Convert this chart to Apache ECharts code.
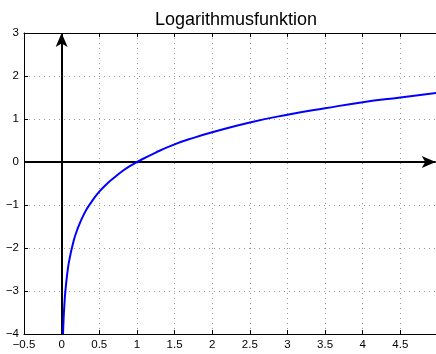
<!DOCTYPE html>
<html><head><meta charset="utf-8">
<script src="https://cdn.jsdelivr.net/npm/echarts@6/dist/echarts.min.js"></script>
<style>html,body{margin:0;padding:0;background:#fff}#c{width:436px;height:354px}</style>
</head><body><div id="c"></div>
<script>
const titleText = 'Logarithmusfunktion';
const xValues = [0.018,0.02,0.025,0.03,0.04,0.05,0.075,0.1,0.15,0.2,0.3,0.4,0.5,0.6,0.7,0.8,0.9,1,1.25,1.5,1.75,2,2.5,3,3.5,4,4.5,5];
const yValues = [-4.0,-3.91,-3.69,-3.51,-3.22,-3.0,-2.59,-2.3,-1.9,-1.61,-1.2,-0.92,-0.69,-0.51,-0.36,-0.22,-0.1,0,0.22,0.41,0.56,0.69,0.92,1.1,1.25,1.39,1.5,1.61];
const xTicks = [-0.5,0,0.5,1,1.5,2,2.5,3,3.5,4,4.5];
const yTicks = [-4,-3,-2,-1,0,1,2,3];

const chart = echarts.init(document.getElementById('c'), null, {renderer:'canvas'});
const font = 'Liberation Sans, Arial, Helvetica, sans-serif';
const gridLine = {show:true, lineStyle:{color:'#999', type:[1,4], width:1}};
chart.setOption({
  animation:false,
  title:{text:titleText, left:231, textAlign:'center', top:6,
    textStyle:{fontFamily:font, fontSize:18, fontWeight:'normal', color:'#000'}},
  grid:{left:24, right:-2, top:33, bottom:20, outerBoundsMode:'none', containLabel:false},
  xAxis:[{type:'value', min:-0.5, max:5, interval:0.5, position:'bottom',
    axisLine:{show:true, onZero:false, lineStyle:{color:'#000', width:1}},
    axisTick:{show:true, inside:true, length:4, lineStyle:{color:'#000'}},
    axisLabel:{fontFamily:font, fontSize:11.5, color:'#000', margin:5,
      formatter:v=> xTicks.includes(v) ? String(v).replace('-','\u2212') : ''},
    splitLine:gridLine},
   {type:'value', min:-0.5, max:5, interval:0.5, position:'top',
    axisLine:{show:true, onZero:false, lineStyle:{color:'#000', width:1}},
    axisTick:{show:true, inside:true, length:4, lineStyle:{color:'#000'}},
    axisLabel:{show:false}, splitLine:{show:false}}],
  yAxis:[{type:'value', min:-4, max:3, interval:1, position:'left',
    axisLine:{show:true, onZero:false, lineStyle:{color:'#000', width:1}},
    axisTick:{show:true, inside:true, length:4, lineStyle:{color:'#000'}},
    axisLabel:{fontFamily:font, fontSize:11.5, color:'#000', margin:5,
      formatter:v=> yTicks.includes(v) ? String(v).replace('-','\u2212') : ''},
    splitLine:gridLine}],
  series:[
    {type:'line', data:xValues.map((x,i)=>[x,yValues[i]]), smooth:true, showSymbol:false,
     lineStyle:{color:'#0000ff', width:2}, z:5, clip:true,
     markLine:{silent:true, symbol:['none','arrow'], symbolSize:[9,14], precision:3,
       label:{show:false}, lineStyle:{color:'#000', width:2, type:'solid'},
       data:[
         [{coord:[0,-4]},{coord:[0,3]}],
         [{coord:[-0.5,0]},{coord:[4.97,0]}]
       ]}}
  ]
});
</script></body></html>
